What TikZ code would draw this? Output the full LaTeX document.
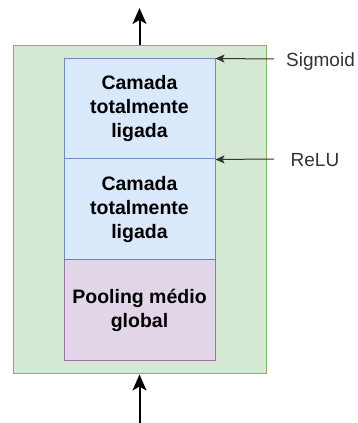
\documentclass[tikz,border=0pt]{standalone}
\usepackage{fontspec}
\setmainfont{Liberation Sans}
\usetikzlibrary{arrows.meta}

\definecolor{grnfill}{HTML}{D5E8D4}
\definecolor{grnline}{HTML}{82B366}
\definecolor{blufill}{HTML}{DAE8FC}
\definecolor{bluline}{HTML}{6C8EBF}
\definecolor{purfill}{HTML}{E1D5E7}
\definecolor{purline}{HTML}{9673A6}
\definecolor{notegray}{HTML}{333333}

\tikzset{
  block/.style={draw, line width=1pt, minimum width=151pt, inner sep=0pt,
    align=center, font=\fontsize{19.5}{24}\selectfont\bfseries},
  fcbox/.style={block, fill=blufill, draw=bluline},
  poolbox/.style={block, fill=purfill, draw=purline, minimum height=101pt},
  flow/.style={line width=2pt, -{Stealth[length=16pt,width=14pt,inset=4pt]}},
  note/.style={line width=1pt, draw=notegray,
    -{Stealth[length=9pt,width=8pt,inset=2pt]}},
  notetext/.style={inner sep=0pt, anchor=base west, text=notegray,
    font=\fontsize{19}{22}\selectfont}
}

\begin{document}
\begin{tikzpicture}[x=1pt,y=1pt]
  \useasboundingbox (0,0) rectangle (358,423);

  % outer block
  \node[draw=grnline, fill=grnfill, line width=1pt, minimum width=253pt,
        minimum height=328pt, inner sep=0pt] (outer) at (139.5,213) {};

  % inner layers
  \node[fcbox, minimum height=100pt] (fc1) at (139.5,314)
    {Camada\\totalmente\\ligada};
  \node[fcbox, minimum height=101pt] (fc2) at (139.5,213.5)
    {Camada\\totalmente\\ligada};
  \node[poolbox] (pool) at (139.5,112.5) {Pooling médio\\global};

  % input and output
  \coordinate (outtip) at (139.5,415);
  \coordinate (inbase) at (139.5,0);
  \draw[flow] (outer.north) -- (outtip);
  \draw[flow] (inbase) -- (outer.south);

  % activation notes
  \coordinate (sigtail) at (274,364);
  \coordinate (relutail) at (274,264);
  \node[notetext] (sig) at (286,356.5) {Sigmoid};
  \node[notetext] (relu) at (290.5,256.5) {ReLU};
  \draw[note] (sigtail) -- (fc1.north east);
  \draw[note] (relutail) -- (fc1.south east);
\end{tikzpicture}
\end{document}
